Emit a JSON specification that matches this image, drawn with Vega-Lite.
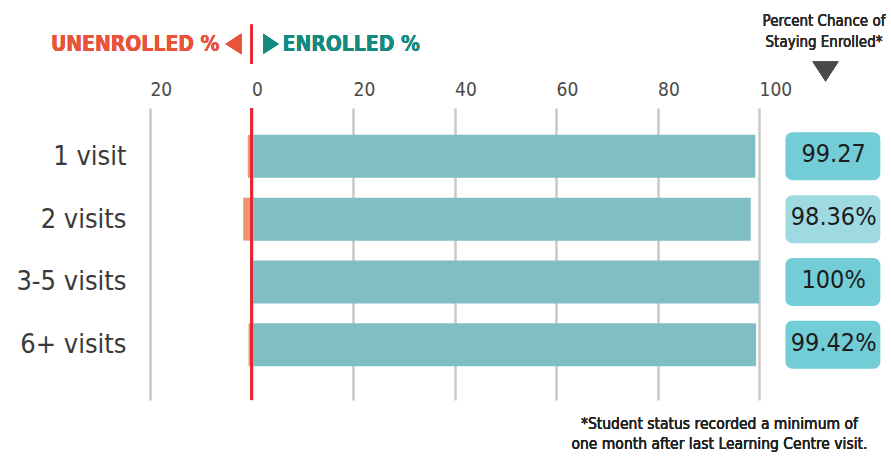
{
  "$schema": "https://vega.github.io/schema/vega-lite/v6.json",
  "width": 741,
  "height": 292,
  "autosize": {"type": "none"},
  "padding": {"left": 150, "top": 108, "right": 0, "bottom": 70},
  "background": "white",
  "config": {
    "view": {"stroke": null},
    "font": "DejaVu Sans Condensed, sans-serif",
    "text": {"font": "DejaVu Sans Condensed, sans-serif"}
  },
  "data": {
    "values": [
      {"visits": "1 visit", "row": 1, "enrolled": 99.27, "unenrolled": -0.73, "label": "99.27"},
      {"visits": "2 visits", "row": 2, "enrolled": 98.36, "unenrolled": -1.64, "label": "98.36%"},
      {"visits": "3-5 visits", "row": 3, "enrolled": 100, "unenrolled": 0, "label": "100%"},
      {"visits": "6+ visits", "row": 4, "enrolled": 99.42, "unenrolled": -0.58, "label": "99.42%"}
    ]
  },
  "layer": [
    {
      "mark": {"type": "bar", "orient": "horizontal", "size": 43, "color": "#7fbec4"},
      "encoding": {
        "x": {
          "field": "enrolled", "type": "quantitative", "title": null,
          "scale": {"domain": [-20, 126], "nice": false, "zero": false},
          "axis": {
            "orient": "top", "values": [-20, 0, 20, 40, 60, 80, 100],
            "labelExpr": "abs(datum.value)", "labelAlign": "left", "labelDx": -1,
            "labelFontSize": 19, "labelColor": "#4a4a4a", "labelPadding": 9,
            "ticks": false, "tickSize": 0, "domain": false,
            "grid": true, "gridColor": "#c9c9c9", "gridWidth": 2.5
          }
        },
        "x2": {"datum": 0},
        "y": {
          "field": "row", "type": "quantitative", "title": null,
          "scale": {"domain": [0.31, 4.8], "reverse": true, "nice": false, "zero": false},
          "axis": {
            "values": [1, 2, 3, 4],
            "labelExpr": "['', '1 visit', '2 visits', '3-5 visits', '6+ visits'][datum.value]",
            "labelFontSize": 27, "labelColor": "#3a3a3a", "labelPadding": 24,
            "ticks": false, "tickSize": 0, "domain": false, "grid": false
          }
        }
      }
    },
    {
      "mark": {"type": "bar", "orient": "horizontal", "size": 43, "color": "#ee9673"},
      "encoding": {
        "x": {"field": "unenrolled", "type": "quantitative", "title": null},
        "x2": {"datum": 0},
        "y": {"field": "row", "type": "quantitative", "title": null}
      }
    },
    {
      "mark": {"type": "rule", "color": "#e8212b", "strokeWidth": 2},
      "encoding": {"x": {"datum": 0, "title": null}}
    },
    {
      "mark": {"type": "bar", "orient": "horizontal", "size": 48, "cornerRadius": 7},
      "encoding": {
        "x": {"datum": 105.2, "title": null},
        "x2": {"datum": 123.9},
        "y": {"field": "row", "type": "quantitative", "title": null},
        "color": {
          "condition": {"test": "datum.visits === '2 visits'", "value": "#9fd9e2"},
          "value": "#72cdd7"
        }
      }
    },
    {
      "mark": {"type": "text", "fontSize": 25, "color": "#1c1c1c", "align": "center", "baseline": "middle", "dy": -2},
      "encoding": {
        "x": {"datum": 114.7, "title": null},
        "y": {"field": "row", "type": "quantitative", "title": null},
        "text": {"field": "label"}
      }
    },
    {
      "mark": {"type": "rule", "color": "#e8212b", "strokeWidth": 2},
      "encoding": {
        "x": {"datum": 0, "title": null},
        "y": {"datum": -1.1, "title": null},
        "y2": {"datum": -0.47}
      }
    },
    {
      "mark": {"type": "text", "fontSize": 21, "fontWeight": "bold", "color": "#e8533a", "align": "right", "baseline": "alphabetic"},
      "encoding": {
        "x": {"datum": -6.3, "title": null},
        "y": {"datum": -0.68, "title": null},
        "text": {"value": "UNENROLLED %"}
      }
    },
    {
      "mark": {"type": "point", "filled": true, "opacity": 1, "color": "#e8533a", "size": 256, "shape": "M1,-1.3L1,1.3L-1,0Z"},
      "encoding": {
        "x": {"datum": -3.55, "title": null},
        "y": {"datum": -0.79, "title": null}
      }
    },
    {
      "mark": {"type": "point", "filled": true, "opacity": 1, "color": "#148a80", "size": 240, "shape": "M-1,-1.3L-1,1.3L1,0Z"},
      "encoding": {
        "x": {"datum": 3.84, "title": null},
        "y": {"datum": -0.79, "title": null}
      }
    },
    {
      "mark": {"type": "text", "fontSize": 21, "fontWeight": "bold", "color": "#148a80", "align": "left", "baseline": "alphabetic"},
      "encoding": {
        "x": {"datum": 6.1, "title": null},
        "y": {"datum": -0.68, "title": null},
        "text": {"value": "ENROLLED %"}
      }
    },
    {
      "mark": {"type": "text", "fontSize": 15, "color": "#2a2a2a", "align": "center", "baseline": "alphabetic", "lineHeight": 21},
      "encoding": {
        "x": {"datum": 112.8, "title": null},
        "y": {"datum": -1.07, "title": null},
        "text": {"value": ["Percent Chance of", "Staying Enrolled*"]}
      }
    },
    {
      "mark": {"type": "point", "filled": true, "opacity": 1, "color": "#4a4a4a", "size": 676, "shape": "M-1,-0.77L1,-0.77L0,0.77Z"},
      "encoding": {
        "x": {"datum": 113.1, "title": null},
        "y": {"datum": -0.35, "title": null}
      }
    },
    {
      "mark": {"type": "text", "fontSize": 15.5, "color": "#222222", "align": "center", "baseline": "alphabetic", "lineHeight": 20},
      "encoding": {
        "x": {"datum": 92.2, "title": null},
        "y": {"datum": 5.34, "title": null},
        "text": {"value": ["*Student status recorded a minimum of", "one month after last Learning Centre visit."]}
      }
    }
  ]
}
